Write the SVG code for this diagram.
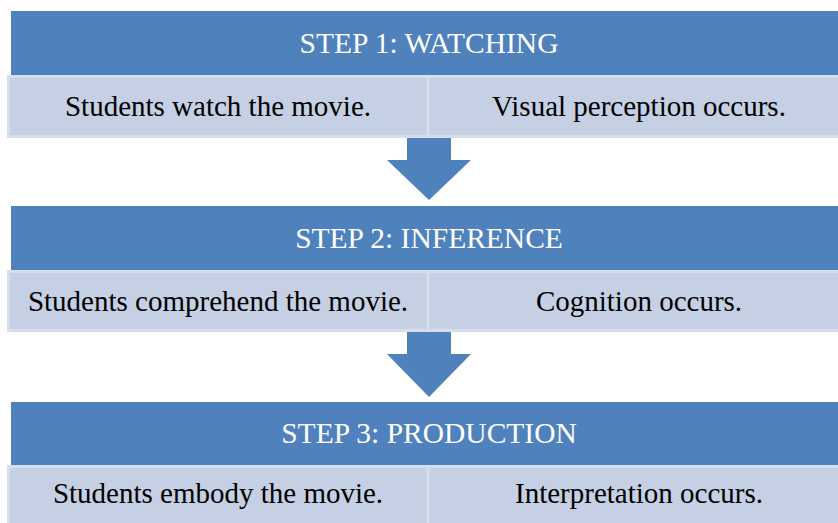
<svg xmlns="http://www.w3.org/2000/svg" width="838" height="523" viewBox="0 0 838 523">
<style>
.hdr{fill:#4F81BD}
.row{fill:#C5D0E4;stroke:#D6DEEC;stroke-width:3}
.div{stroke:#D6DEEC;stroke-width:3}
.arr{fill:#4F81BD}
.ht{font-family:'Liberation Serif','Times New Roman',Tinos,'DejaVu Serif',serif;font-size:29.5px;fill:#FFFFFF;text-anchor:middle}
.rt{font-family:'Liberation Serif','Times New Roman',Tinos,'DejaVu Serif',serif;font-size:29px;fill:#000000;text-anchor:middle}
</style>
<rect width="838" height="523" fill="#FFFFFF"/>
<g id="connectors">
<polygon class="arr" points="407,136 451,136 451,160 471,160 429,200 387,160 407,160"/>
<polygon class="arr" points="407,331 451,331 451,354 471,354 429,397 387,354 407,354"/>
</g>
<g id="step1">
<rect class="hdr" x="11" y="11" width="840" height="64"/>
<text class="ht" x="429" y="53">STEP 1: WATCHING</text>
</g>
<g id="step1-row">
<rect class="row" x="8.5" y="76.5" width="840" height="60"/>
<line class="div" x1="428" y1="77" x2="428" y2="136"/>
<text class="rt" x="218" y="116">Students watch the movie.</text>
<text class="rt" x="639" y="116">Visual perception occurs.</text>
</g>
<g id="step2">
<rect class="hdr" x="11" y="206" width="840" height="64"/>
<text class="ht" x="429" y="248">STEP 2: INFERENCE</text>
</g>
<g id="step2-row">
<rect class="row" x="8.5" y="271.5" width="840" height="59"/>
<line class="div" x1="428" y1="272" x2="428" y2="330"/>
<text class="rt" x="218" y="311">Students comprehend the movie.</text>
<text class="rt" x="639" y="311">Cognition occurs.</text>
</g>
<g id="step3">
<rect class="hdr" x="11" y="402" width="840" height="63"/>
<text class="ht" x="429" y="443">STEP 3: PRODUCTION</text>
</g>
<g id="step3-row">
<rect class="row" x="8.5" y="466.5" width="840" height="60"/>
<line class="div" x1="428" y1="467" x2="428" y2="523"/>
<text class="rt" x="218" y="503">Students embody the movie.</text>
<text class="rt" x="639" y="503">Interpretation occurs.</text>
</g>
</svg>
